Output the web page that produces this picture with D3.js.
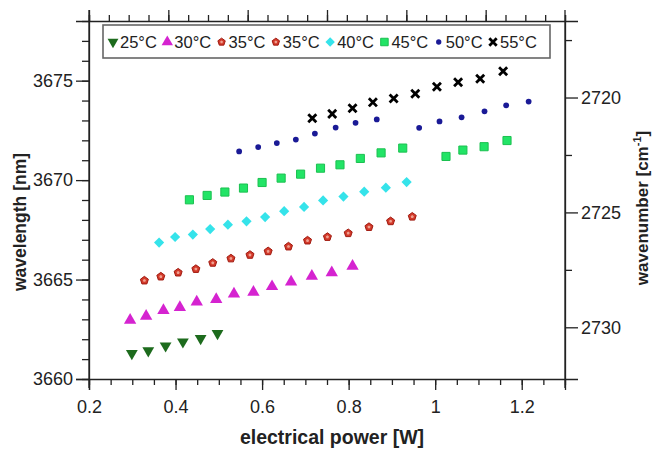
<!DOCTYPE html>
<html><head><meta charset="utf-8">
<script src="https://cdn.jsdelivr.net/npm/d3@7"></script>
<style>
body{margin:0;background:#fff;}
svg text{font-family:"Liberation Sans",Arial,sans-serif;fill:#222;}
</style></head>
<body><svg id="c" width="652" height="450"></svg>
<script>
// ---- data ----
const legendLabels = ["25°C","30°C","35°C","35°C","40°C","45°C","50°C","55°C"];
const power25 = [0.299,0.337,0.377,0.417,0.458,0.497];
const wl25    = [3661.29,3661.42,3661.67,3661.87,3662.04,3662.29];
const power30 = [0.295,0.332,0.372,0.410,0.449,0.494,0.535,0.580,0.623,0.667,0.715,0.761,0.809];
const wl30    = [3662.96,3663.16,3663.45,3663.60,3663.88,3664.00,3664.28,3664.37,3664.65,3664.88,3665.17,3665.35,3665.67];
const power35 = [0.328,0.366,0.406,0.447,0.486,0.528,0.572,0.614,0.661,0.705,0.751,0.799,0.847,0.897,0.947];
const wl35    = [3664.95,3665.15,3665.35,3665.53,3665.84,3666.06,3666.24,3666.42,3666.66,3666.96,3667.14,3667.33,3667.64,3667.93,3668.16];
const power40 = [0.362,0.399,0.440,0.480,0.521,0.564,0.607,0.651,0.697,0.741,0.788,0.836,0.886,0.934];
const wl40    = [3666.86,3667.14,3667.26,3667.54,3667.76,3667.93,3668.14,3668.44,3668.65,3668.98,3669.17,3669.42,3669.62,3669.90];
const power45 = [0.432,0.473,0.514,0.557,0.600,0.644,0.689,0.735,0.780,0.827,0.875,0.925,1.025,1.064,1.113,1.166];
const wl45    = [3669.01,3669.23,3669.40,3669.60,3669.88,3670.10,3670.30,3670.60,3670.77,3671.09,3671.37,3671.61,3671.19,3671.51,3671.68,3671.99];
const power50 = [0.547,0.591,0.634,0.678,0.722,0.770,0.816,0.865,0.963,1.010,1.061,1.114,1.164,1.216];
const wl50    = [3671.44,3671.66,3671.86,3672.04,3672.34,3672.64,3672.88,3673.05,3672.63,3672.95,3673.16,3673.46,3673.76,3673.95];
const power55 = [0.716,0.762,0.809,0.856,0.904,0.954,1.004,1.053,1.104,1.157];
const wl55    = [3673.11,3673.33,3673.61,3673.91,3674.10,3674.34,3674.69,3674.92,3675.10,3675.47];
const xMajorTicks = [0.2,0.4,0.6,0.8,1.0,1.2];
const xTickLabels = ["0.2","0.4","0.6","0.8","1","1.2"];
const yMajorTicks = [3660,3665,3670,3675];
const wnMajorTicks = [2720,2725,2730];

// ---- layout ----
const L=89, R=565, T=21, B=379;
const svg=d3.select("#c");
const x=d3.scaleLinear().domain([0.2,1.3]).range([L,R]);
const y=d3.scaleLinear().domain([3660,3678]).range([B,T]);
const wn=d3.scaleLinear().domain([2716.67,2732.25]).range([T,B]);
const topS=d3.scaleLinear().domain([0,24]).range([L,R]);

const pentagon={draw(ctx,size){const r=Math.sqrt(size/2.38);for(let i=0;i<5;i++){const a=-Math.PI/2+i*2*Math.PI/5;const px=r*Math.cos(a),py=r*Math.sin(a);i?ctx.lineTo(px,py):ctx.moveTo(px,py);}ctx.closePath();}};
const triDown={draw(ctx,size){const s=Math.sqrt(size*4/Math.sqrt(3));const h=s*Math.sqrt(3)/2;ctx.moveTo(0,h*2/3);ctx.lineTo(s/2,-h/3);ctx.lineTo(-s/2,-h/3);ctx.closePath();}};
const diamond={draw(ctx,size){const r=Math.sqrt(size/2);ctx.moveTo(0,-r);ctx.lineTo(r,0);ctx.lineTo(0,r);ctx.lineTo(-r,0);ctx.closePath();}};

const series=[
 {p:power25,w:wl25,type:triDown,size:60,fill:"#1d6b1d",stroke:"none"},
 {p:power30,w:wl30,type:d3.symbolTriangle,size:66,fill:"#d523d0",stroke:"none"},
 {p:power35,w:wl35,type:pentagon,size:42,fill:"#d33a2a",stroke:"#a01a10",inner:true},
 {p:[],w:[],type:pentagon,size:42,fill:"#d33a2a",stroke:"#a01a10",inner:true},
 {p:power40,w:wl40,type:diamond,size:52,fill:"#35e3ea",stroke:"none"},
 {p:power45,w:wl45,type:d3.symbolSquare,size:66,fill:"#22e466",stroke:"#1bc050"},
 {p:power50,w:wl50,type:d3.symbolCircle,size:26,fill:"#1a1a96",stroke:"none"},
 {p:power55,w:wl55,type:d3.symbolX,size:44,fill:"none",stroke:"#000",sw:2.8}
];

function drawMarker(sel,s,scale){
  sel.append("path").attr("d",d3.symbol().type(s.type).size(s.size*scale))
    .attr("fill",s.fill).attr("stroke",s.stroke).attr("stroke-width",s.sw||1);
  if(s.inner) sel.append("path").attr("d",d3.symbol().type(s.type).size(s.size*scale*0.15)).attr("fill","#f0a090");
}

// ---- points ----
series.forEach(s=>{
  const pts=s.p.map((v,i)=>[v,s.w[i]]);
  svg.append("g").selectAll("g").data(pts).join("g")
    .attr("transform",d=>`translate(${x(d[0])},${y(d[1])})`)
    .each(function(){drawMarker(d3.select(this),s,1);});
});

// ---- axes ----
function style(g){g.selectAll("path,line").attr("stroke","#222").attr("stroke-width",1.3);g.selectAll("text").attr("font-size",18).attr("fill","#333").attr("font-family","Liberation Sans, Arial, sans-serif");}
const d3range=(a,b,s)=>d3.range(a,b+s/2,s);
// bottom
svg.append("g").attr("transform",`translate(0,${B})`).call(d3.axisBottom(x).tickValues(d3range(0.2,1.3,0.05)).tickSize(6).tickFormat("")).call(g=>g.select(".domain").remove()).call(style);
svg.append("g").attr("transform",`translate(0,${B})`).call(d3.axisBottom(x).tickValues(xMajorTicks).tickSize(11).tickPadding(10).tickFormat((d,i)=>xTickLabels[i])).call(style);
// top (unlabelled)
svg.append("g").attr("transform",`translate(0,${T})`).call(d3.axisTop(topS).tickValues(d3.range(0,25)).tickSize(6).tickFormat("")).call(style);
svg.append("g").attr("transform",`translate(0,${T})`).call(d3.axisTop(topS).tickValues([0,4,8,12,16,20]).tickSize(11).tickFormat("")).call(g=>g.select(".domain").remove()).call(style);
// left
svg.append("g").attr("transform",`translate(${L},0)`).call(d3.axisLeft(y).tickValues(d3.range(3660,3679)).tickSize(7).tickFormat("")).call(g=>g.select(".domain").remove()).call(style);
svg.append("g").attr("transform",`translate(${L},0)`).call(d3.axisLeft(y).tickValues(yMajorTicks).tickSize(13).tickPadding(3).tickFormat(d3.format("d"))).call(style);
// right
svg.append("g").attr("transform",`translate(${R},0)`).call(d3.axisRight(wn).tickValues([2717.5,2722.5,2727.5]).tickSize(7).tickFormat("")).call(g=>g.select(".domain").remove()).call(style);
svg.append("g").attr("transform",`translate(${R},0)`).call(d3.axisRight(wn).tickValues(wnMajorTicks).tickSize(13).tickPadding(3).tickFormat(d3.format("d"))).call(style);
// extended vertical axis lines
[L,R].forEach(xx=>svg.append("line").attr("x1",xx).attr("x2",xx).attr("y1",T-11).attr("y2",B+9).attr("stroke","#222").attr("stroke-width",1.3));

// ---- titles ----
svg.append("text").attr("x",(L+R)/2+5).attr("y",444).attr("text-anchor","middle").attr("font-size",19.5).attr("font-weight","bold").attr("fill","#222").text("electrical power [W]");
svg.append("text").attr("transform","translate(26,222) rotate(-90)").attr("text-anchor","middle").attr("font-size",17.5).attr("font-weight","bold").attr("fill","#222").text("wavelength [nm]");
const rt=svg.append("text").attr("transform","translate(648,208) rotate(-90)").attr("text-anchor","middle").attr("font-size",17).attr("font-weight","bold").attr("fill","#222");
rt.append("tspan").text("wavenumber [cm");
rt.append("tspan").attr("font-size",11).attr("dy",-7).text("-1");
rt.append("tspan").attr("dy",7).text("]");

// ---- legend ----
const lg=svg.append("g");
lg.append("rect").attr("x",103).attr("y",25).attr("width",447).attr("height",33).attr("fill","#fff").attr("stroke","#666").attr("stroke-width",1.6);
const legX=d3.scaleLinear().domain([0,7]).range([113,493]);
series.forEach((s,i)=>{
  drawMarker(lg.append("g").attr("transform",`translate(${legX(i)},42)`),s,0.85);
  lg.append("text").attr("x",legX(i)+7).attr("y",47.5).attr("font-size",16.5).attr("fill","#222").text(legendLabels[i]);
});
</script></body></html>
